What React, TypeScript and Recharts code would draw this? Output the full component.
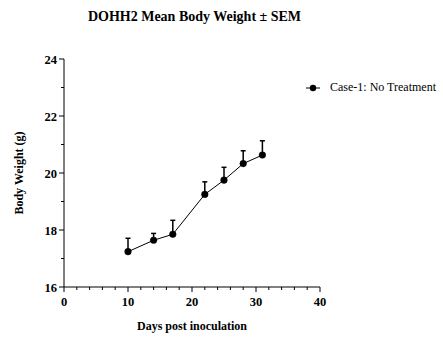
import { LineChart, Line, XAxis, YAxis, ErrorBar, Legend } from 'recharts';

const days = [10, 14, 17, 22, 25, 28, 31];
const meanWeight = [17.24, 17.64, 17.85, 19.25, 19.75, 20.33, 20.63];
const semUpper = [0.47, 0.24, 0.49, 0.44, 0.45, 0.45, 0.5];

const xTicks = [0, 2, 4, 6, 8, 10, 12, 14, 16, 18, 20, 22, 24, 26, 28, 30, 32, 34, 36, 38, 40];
const yTicks = [16, 17, 18, 19, 20, 21, 22, 23, 24];

const seriesName = 'Case-1: No Treatment';
const FONT = '"Liberation Serif", "Times New Roman", serif';

const data = days.map((d, i) => ({
  day: d,
  weight: meanWeight[i],
  err: [0, semUpper[i]],
}));

const XTick = ({ x, y, payload }: any) => {
  const major = payload.value % 10 === 0;
  return (
    <g>
      <line x1={x} y1={y} x2={x} y2={y + (major ? 5 : 3)} stroke="#000" strokeWidth={1} />
      {major && (
        <text x={x} y={y + 19} textAnchor="middle" fontFamily={FONT} fontWeight="bold" fontSize={12.5} fill="#000">
          {payload.value}
        </text>
      )}
    </g>
  );
};

const YTick = ({ x, y, payload }: any) => {
  const major = payload.value % 2 === 0;
  return (
    <g>
      <line x1={x} y1={y} x2={x - (major ? 5 : 3)} y2={y} stroke="#000" strokeWidth={1} />
      {major && (
        <text x={x - 7} y={y + 4.5} textAnchor="end" fontFamily={FONT} fontWeight="bold" fontSize={12.5} fill="#000">
          {payload.value}
        </text>
      )}
    </g>
  );
};

const LegendContent = () => (
  <div style={{ display: 'flex', alignItems: 'center', fontFamily: FONT, fontSize: 12, color: '#000' }}>
    <svg width={20} height={10} style={{ marginRight: 4 }}>
      <line x1={0} y1={5} x2={14} y2={5} stroke="#000" strokeWidth={1} />
      <circle cx={7} cy={5} r={3.2} fill="#000" />
    </svg>
    <span>{seriesName}</span>
  </div>
);

export default function App() {
  return (
    <div style={{ position: 'absolute', left: 0, top: 0, width: 443, height: 359, background: '#fff' }}>
      <div
        style={{
          position: 'absolute',
          left: 0,
          width: 389,
          top: 10,
          textAlign: 'center',
          fontFamily: FONT,
          fontWeight: 'bold',
          fontSize: 14,
          lineHeight: '14px',
          color: '#000',
        }}
      >
        DOHH2 Mean Body Weight ± SEM
      </div>
      <LineChart width={443} height={359} data={data} margin={{ top: 59, right: 123, bottom: 42, left: 0 }}>
        <XAxis
          dataKey="day"
          type="number"
          domain={[0, 40]}
          ticks={xTicks}
          interval={0}
          tickSize={0}
          tickMargin={0}
          tickLine={false}
          tick={XTick}
          height={30}
          axisLine={{ stroke: '#000', strokeWidth: 1 }}
          label={{
            content: ({ viewBox }: any) => (
              <text
                x={viewBox.x + viewBox.width / 2}
                y={viewBox.y + 43}
                textAnchor="middle"
                fontFamily={FONT}
                fontWeight="bold"
                fontSize={12}
                fill="#000"
              >
                Days post inoculation
              </text>
            ),
          }}
        />
        <YAxis
          type="number"
          domain={[16, 24]}
          ticks={yTicks}
          interval={0}
          tickSize={0}
          tickMargin={0}
          tickLine={false}
          tick={YTick}
          width={64}
          axisLine={{ stroke: '#000', strokeWidth: 1 }}
          label={{
            content: ({ viewBox }: any) => {
              const cx = 23;
              const cy = viewBox.y + viewBox.height / 2;
              return (
                <text
                  x={cx}
                  y={cy}
                  transform={`rotate(-90 ${cx} ${cy})`}
                  textAnchor="middle"
                  fontFamily={FONT}
                  fontWeight="bold"
                  fontSize={12}
                  fill="#000"
                >
                  Body Weight (g)
                </text>
              );
            },
          }}
        />
        <Legend
          layout="horizontal"
          verticalAlign="middle"
          align="center"
          content={LegendContent}
          wrapperStyle={{ left: 306, top: 80, width: 'auto' }}
        />
        <Line
          dataKey="weight"
          name={seriesName}
          stroke="#000"
          strokeWidth={1}
          dot={{ r: 3.3, fill: '#000', stroke: '#000', strokeWidth: 0.5 }}
          activeDot={false}
          isAnimationActive={false}
        >
          <ErrorBar dataKey="err" direction="y" width={2.5} stroke="#000" strokeWidth={1.5} isAnimationActive={false} />
        </Line>
      </LineChart>
    </div>
  );
}
